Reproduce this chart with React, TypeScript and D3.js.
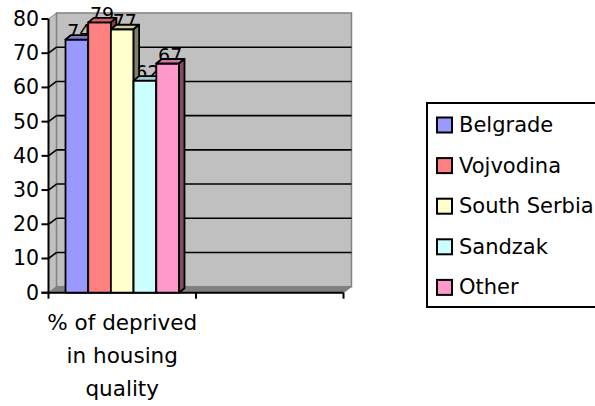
import React from "react";
import * as d3 from "d3";

// Chart data
const seriesNames = ["Belgrade", "Vojvodina", "South Serbia", "Sandzak", "Other"];
const seriesValues = [74, 79, 77, 62, 67];
const seriesColors = ["#9999ff", "#ff8080", "#ffffcc", "#ccffff", "#ff99cc"];
const categories = ["% of deprived in housing quality", ""];
const categoryLabelLines = ["% of deprived", "in housing", "quality"];
const yTickValues = [0, 10, 20, 30, 40, 50, 60, 70, 80];

const W = 595;
const H = 406;
const FONT = "'DejaVu Sans', sans-serif";

// 3D depth of the walls and of the bars
const WALL_DX = 8;
const WALL_DY = 6;
const BAR_DX = 5.5;
const BAR_DY = 4.5;

const shade = (c: string, k: number) => {
  const col = d3.rgb(c);
  return d3.rgb(col.r * k, col.g * k, col.b * k).formatHex();
};

export default function App() {
  const y = d3.scaleLinear().domain([0, 80]).range([292.7, 19]);
  const x = d3.scaleBand<string>().domain(categories).range([48.5, 343.5]);
  const bw = x.bandwidth();
  const x0 = x(categories[0]) as number;
  const inner = d3
    .scaleBand<string>()
    .domain(seriesNames)
    .range([x0 + 17, x0 + bw - 17]);
  const barW = inner.bandwidth();

  const left = x.range()[0];
  const right = x.range()[1];
  const y0 = y(0);
  const yTop = y(80);

  const pts = (p: [number, number][]) => p.map((d) => d.join(",")).join(" ");

  return (
    <svg
      width={W}
      height={H}
      style={{ position: "absolute", left: 0, top: 0, background: "#fff" }}
      fontFamily={FONT}
    >
      {/* side wall */}
      <polygon
        points={pts([
          [left, y0],
          [left, yTop],
          [left + WALL_DX, yTop - WALL_DY],
          [left + WALL_DX, y0 - WALL_DY],
        ])}
        fill="#c0c0c0"
        stroke="#808080"
        strokeWidth={1}
      />
      {/* back wall */}
      <rect
        x={left + WALL_DX}
        y={yTop - WALL_DY}
        width={right - left}
        height={y0 - yTop}
        fill="#c0c0c0"
        stroke="#808080"
        strokeWidth={1.5}
      />
      {/* floor */}
      <polygon
        points={pts([
          [left, y0],
          [right, y0],
          [right + WALL_DX, y0 - WALL_DY],
          [left + WALL_DX, y0 - WALL_DY],
        ])}
        fill="#808080"
        stroke="#808080"
        strokeWidth={1}
      />
      {/* gridlines on back and side walls */}
      {yTickValues
        .filter((v) => v > 0 && v < 80)
        .map((v) => (
          <g key={"g" + v} stroke="#000" strokeWidth={1.6}>
            <line
              x1={left + WALL_DX}
              x2={right + WALL_DX}
              y1={y(v) - WALL_DY}
              y2={y(v) - WALL_DY}
            />
            <line x1={left} x2={left + WALL_DX} y1={y(v)} y2={y(v) - WALL_DY} />
          </g>
        ))}

      {/* value axis */}
      <line x1={left} x2={left} y1={yTop} y2={y0} stroke="#000" strokeWidth={2} />
      {yTickValues.map((v) => (
        <g key={"t" + v}>
          <line x1={left - 7} x2={left} y1={y(v)} y2={y(v)} stroke="#000" strokeWidth={2} />
          <text
            x={39}
            y={y(v)}
            textAnchor="end"
            dominantBaseline="central"
            fontSize={20.5}
            fill="#000"
          >
            {v}
          </text>
        </g>
      ))}

      {/* category axis */}
      <line x1={left - 7} x2={right} y1={y0} y2={y0} stroke="#000" strokeWidth={2} />
      {[left, x0 + bw, right].map((t, i) => (
        <line key={"c" + i} x1={t} x2={t} y1={y0} y2={y0 + 6} stroke="#000" strokeWidth={2} />
      ))}
      {categoryLabelLines.map((line, i) => (
        <text
          key={"cl" + i}
          x={x0 + bw / 2}
          y={330 + i * 33}
          textAnchor="middle"
          fontSize={21.5}
          fill="#000"
        >
          {line}
        </text>
      ))}

      {/* value labels, partly hidden behind the bar tops */}
      {seriesNames.map((s, i) => (
        <text
          key={"vl" + s}
          x={(inner(s) as number) + barW / 2 + 2.5}
          y={y(seriesValues[i]) - 1.5}
          textAnchor="middle"
          fontSize={19}
          fill="#000"
        >
          {seriesValues[i]}
        </text>
      ))}

      {/* bars */}
      {seriesNames.map((s, i) => {
        const bx = inner(s) as number;
        const by = y(seriesValues[i]);
        const c = seriesColors[i];
        return (
          <g key={"b" + s} stroke="#000" strokeWidth={1.8} strokeLinejoin="round">
            <rect x={bx} y={by} width={barW} height={y0 - by} fill={c} />
            <polygon
              points={pts([
                [bx, by],
                [bx + barW, by],
                [bx + barW + BAR_DX, by - BAR_DY],
                [bx + BAR_DX, by - BAR_DY],
              ])}
              fill={shade(c, 0.8)}
            />
            <polygon
              points={pts([
                [bx + barW, by],
                [bx + barW + BAR_DX, by - BAR_DY],
                [bx + barW + BAR_DX, y0 - BAR_DY],
                [bx + barW, y0],
              ])}
              fill={shade(c, 0.5)}
            />
          </g>
        );
      })}

      {/* legend */}
      <rect x={427} y={103} width={180} height={204} fill="#fff" stroke="#000" strokeWidth={2} />
      {seriesNames.map((s, i) => {
        const cy = 125 + i * 40.6;
        return (
          <g key={"lg" + s}>
            <rect
              x={437}
              y={cy - 7.5}
              width={15}
              height={15}
              fill={seriesColors[i]}
              stroke="#000"
              strokeWidth={2}
            />
            <text x={459} y={cy} dominantBaseline="central" fontSize={21} fill="#000">
              {s}
            </text>
          </g>
        );
      })}
    </svg>
  );
}
